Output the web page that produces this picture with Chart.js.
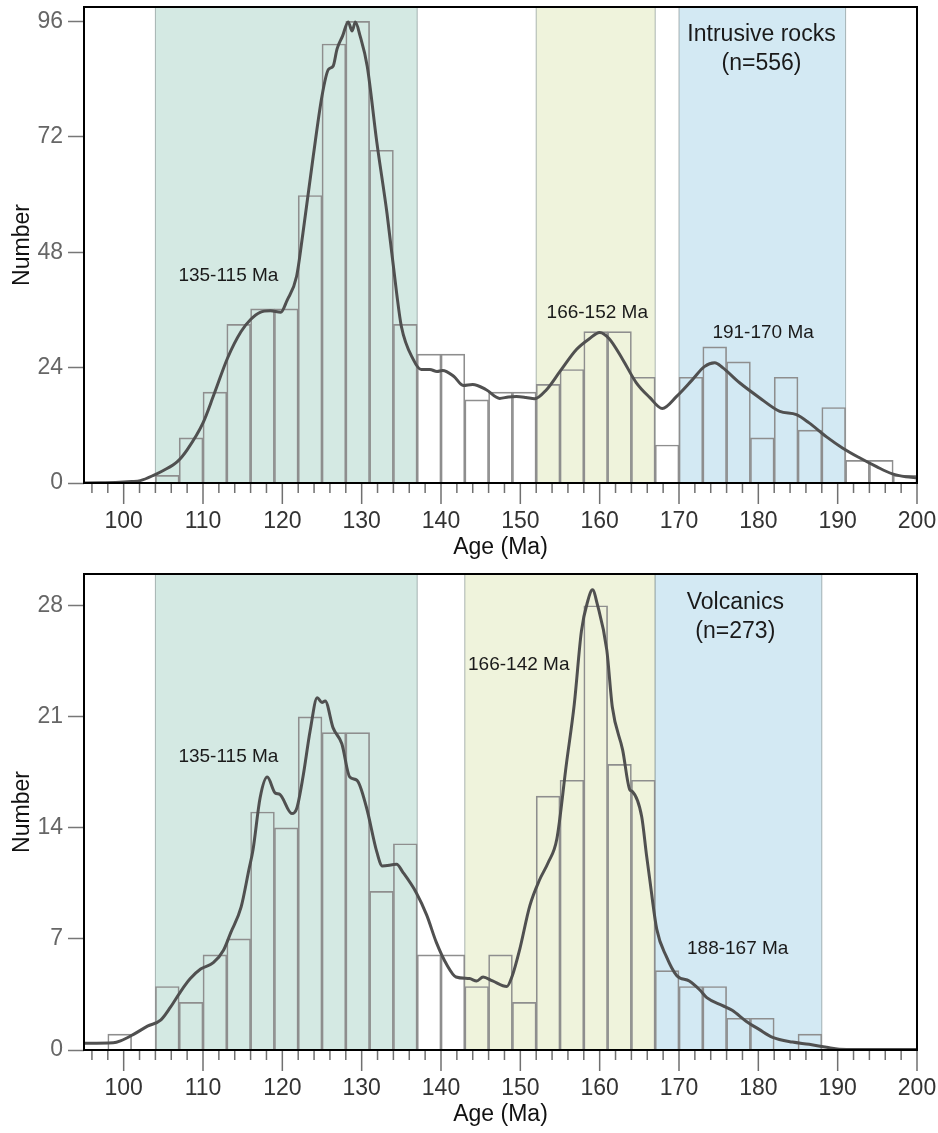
<!DOCTYPE html>
<html>
<head>
<meta charset="utf-8">
<script src="https://cdn.jsdelivr.net/npm/chart.js@4.4.1/dist/chart.umd.min.js"></script>
<style>
    html, body { margin: 0; padding: 0; background: #fff; }
    .panel { position: absolute; left: 0; width: 938px; height: 566px; }
</style>
</head>
<body>
<div class="panel" style="top:0"><canvas id="intrusiveChart" width="938" height="566"></canvas></div>
<div class="panel" style="top:567px"><canvas id="volcanicChart" width="938" height="566"></canvas></div>
<script>
// histogram bins are 3 Ma wide, listed by their start age
const BIN_WIDTH = 3;

// --- intrusive rocks (top) ---
const intrusiveBinStart = [104, 107, 110, 113, 116, 119, 122, 125, 128, 131, 134, 137, 140, 143, 146, 149,
    152, 155, 158, 161, 164, 167, 170, 173, 176, 179, 182, 185, 188, 191, 194, 197];
const intrusiveBinValue = [1.6, 9.4, 18.9, 33.0, 36.2, 36.2, 59.8, 91.3, 96.0, 69.2, 33.0, 26.8, 26.8, 17.3, 18.9, 18.9,
    20.5, 23.6, 31.5, 31.5, 22.0, 7.9, 22.0, 28.3, 25.2, 9.4, 22.0, 11.0, 15.7, 4.7, 4.7, 1.6];
const intrusiveCurveAge = [95, 97, 99, 101, 102.1, 103.9, 105, 106.8, 108, 110, 111.4, 113.1, 114.8, 116, 117.2, 118.5,
    119.8, 120.6, 121.8, 122.6, 123.9, 125, 125.8, 126.4, 126.9, 127.6, 128.3, 128.8, 129.2, 129.8, 130.7, 131.9,
    133.2, 134.4, 135, 136.5, 137.5, 138.6, 139.5, 140.2, 141.6, 142.8, 144, 145.7, 147.4, 148.5, 149.5, 150.7,
    151.8, 153.3, 155, 157.1, 158.7, 160, 161.2, 162.9, 164.6, 166.3, 167.9, 169.7, 171.7, 173.2, 174.5, 175.5,
    177.6, 180.1, 182.7, 184.8, 186.4, 188.6, 190.6, 192.7, 194.9, 196.9, 198.6, 200];
const intrusiveCurveValue = [0, 0.05, 0.1, 0.3, 0.5, 1.7, 2.6, 4.5, 6.9, 12.5, 18.5, 26, 31.5, 34, 35.5, 35.8,
    35.5, 38, 43, 52, 68, 80.5, 86, 86.7, 90.3, 93, 95.9, 94, 95.9, 93, 86.7, 71,
    56, 39.6, 32.6, 25.7, 23.6, 23.6, 23.2, 23.4, 22.2, 20.3, 20.5, 19.4, 17.6, 17.9, 18, 17.8,
    17.5, 19.4, 23.2, 27.8, 30, 31.3, 30, 25.7, 20.9, 17.8, 15.5, 18, 21.5, 24.2, 25, 24,
    20.9, 17.8, 14.9, 14.2, 12.5, 9.6, 7.3, 5.3, 3.4, 1.9, 1.3, 1.1];
const intrusiveBandFrom = [104, 152, 170];
const intrusiveBandTo = [137, 167, 191];

// --- volcanics (bottom) ---
const volcanicBinStart = [98, 101, 104, 107, 110, 113, 116, 119, 122, 125, 128, 131, 134, 137, 140,
    143, 146, 149, 152, 155, 158, 161, 164, 167, 170, 173, 176, 179, 182, 185];
const volcanicBinValue = [1, 0, 4, 3, 6, 7, 15, 14, 21, 20, 20, 10, 13, 6, 6,
    4, 6, 3, 16, 17, 28, 18, 17, 5, 4, 4, 2, 2, 0, 1];
const volcanicCurveAge = [95, 98.7, 99.6, 101.3, 103, 104.7, 105.9, 107.2, 108.4, 109.7, 111.3, 112.6, 113.5, 114.8,
    115.8, 116.3, 117.2, 118.1, 119.1, 119.7, 121.2, 121.8, 122.6, 123.5, 124.4, 125, 125.4, 126.4, 127.5,
    128.5, 129.4, 130.6, 131.9, 132.6, 134.4, 135.2, 136.9, 138.2, 139.4, 140.7, 141.9, 143.6, 144.5, 145.3,
    146.5, 148.3, 149, 149.9, 151.2, 152.4, 153.5, 154.6, 155.8, 156.8, 157.7, 158.5, 159.1, 159.7, 160.9,
    161.6, 162.9, 163.8, 164.1, 165.3, 165.9, 166.3, 167.2, 168.4, 169.7, 171.3, 172.6, 173.5, 175.5, 176.7,
    178.5, 180.1, 181.8, 184.3, 186.4, 188.6, 190.2, 195, 200];
const volcanicCurveValue = [0.42, 0.45, 0.57, 1.0, 1.5, 1.9, 2.7, 3.7, 4.5, 5.1, 5.5, 6.3, 7.4, 9.0,
    11.4, 12.6, 15.9, 17.2, 16.2, 16.1, 14.9, 15.2, 17.2, 20.1, 22.2, 21.9, 22.0, 20.3, 19.3,
    17.2, 17.0, 15.3, 12.5, 11.6, 11.7, 11.2, 9.9, 8.5, 6.8, 5.4, 4.6, 4.5, 4.35, 4.6,
    4.35, 4.0, 4.7, 6.3, 9.1, 10.7, 11.8, 13.3, 18.0, 21.8, 26.4, 28.3, 29.0, 28.1, 25.2,
    21.6, 18.9, 16.4, 16.3, 14.7, 12.3, 10.8, 7.6, 5.9, 4.7, 4.35, 3.8, 3.3, 2.8, 2.5,
    1.8, 1.3, 0.8, 0.5, 0.36, 0.17, 0.05, 0.03, 0.03];
const volcanicBandFrom = [104, 143, 167];
const volcanicBandTo = [137, 167, 188];

const BAND_COLORS = ['#d4e9e3', '#eff3dc', '#d3e9f3'];
const FONT = '"Liberation Sans", Arial, sans-serif';

function makePanel(canvasId, cfg) {
    const ctx = document.getElementById(canvasId).getContext('2d');

    const bars = cfg.binStart.map((s, i) => ({ x: s + BIN_WIDTH / 2, y: cfg.binValue[i] }));
    const curve = cfg.curveAge.map((a, i) => ({ x: a, y: cfg.curveValue[i] }));

    const decor = {
        id: 'decor',
        beforeDatasetsDraw(chart) {
            const { ctx, chartArea: a, scales: { x } } = chart;
            ctx.save();
            cfg.bandFrom.forEach((from, i) => {
                const x0 = x.getPixelForValue(from);
                const x1 = x.getPixelForValue(cfg.bandTo[i]);
                ctx.fillStyle = BAND_COLORS[i];
                ctx.fillRect(x0, a.top, x1 - x0, a.bottom - a.top);
                ctx.strokeStyle = 'rgba(120,135,135,0.6)';
                ctx.lineWidth = 1;
                ctx.beginPath();
                ctx.moveTo(x0, a.top); ctx.lineTo(x0, a.bottom);
                ctx.moveTo(x1, a.top); ctx.lineTo(x1, a.bottom);
                ctx.stroke();
            });
            ctx.restore();
        },
        afterDatasetsDraw(chart) {
            const { ctx, chartArea: a, scales: { x, y } } = chart;
            ctx.save();
            // x-axis tick marks: minor every 2 Ma, long ones every 10 Ma
            ctx.strokeStyle = '#707070';
            ctx.lineWidth = 1.5;
            ctx.beginPath();
            for (let v = 96; v <= 200; v += 2) {
                const px = x.getPixelForValue(v);
                ctx.moveTo(px, a.bottom);
                ctx.lineTo(px, a.bottom + (v % 10 === 0 ? 21 : 10));
            }
            ctx.stroke();
            // frame
            ctx.strokeStyle = '#000';
            ctx.lineWidth = 2;
            ctx.strokeRect(a.left, a.top, a.right - a.left, a.bottom - a.top);
            // annotations
            ctx.fillStyle = '#1a1a1a';
            ctx.textAlign = 'center';
            ctx.textBaseline = 'middle';
            cfg.notes.forEach(n => {
                ctx.font = n.size + 'px ' + FONT;
                ctx.fillText(n.text, x.getPixelForValue(n.age), y.getPixelForValue(n.value));
            });
            ctx.restore();
        }
    };

    return new Chart(ctx, {
        type: 'bar',
        data: {
            datasets: [{
                type: 'line',
                data: curve,
                borderColor: '#505050',
                borderWidth: 3,
                pointRadius: 0,
                cubicInterpolationMode: 'monotone',
                fill: false,
                order: 0
            }, {
                type: 'bar',
                data: bars,
                backgroundColor: 'rgba(0,0,0,0)',
                borderColor: '#8e8e8e',
                borderWidth: 1,
                barPercentage: 1,
                categoryPercentage: 1,
                order: 1
            }]
        },
        options: {
            responsive: false,
            animation: false,
            layout: { padding: { top: 7, right: 21, left: 0, bottom: 0 } },
            plugins: {
                legend: { display: false },
                tooltip: { enabled: false }
            },
            scales: {
                x: {
                    type: 'linear',
                    offset: false,
                    min: 95,
                    max: 200,
                    ticks: {
                        stepSize: 10,
                        includeBounds: false,
                        autoSkip: false,
                        maxRotation: 0,
                        color: '#333',
                        padding: 25,
                        font: { family: FONT, size: 23 }
                    },
                    grid: { display: false, drawTicks: false },
                    border: { display: false },
                    title: {
                        display: true,
                        text: 'Age (Ma)',
                        color: '#111',
                        font: { family: FONT, size: 23 },
                        padding: { top: 0, bottom: 5 }
                    },
                    afterFit(scale) {
                        scale.height = 83;
                        scale.paddingLeft = 0;
                        scale.paddingRight = 0;
                    }
                },
                y: {
                    min: 0,
                    max: cfg.yMax,
                    ticks: {
                        stepSize: cfg.yStep,
                        includeBounds: false,
                        color: '#666',
                        padding: 5,
                        font: { family: FONT, size: 23 }
                    },
                    grid: {
                        drawOnChartArea: false,
                        drawTicks: true,
                        tickLength: 16,
                        tickColor: '#777',
                        tickWidth: 1.5
                    },
                    border: { display: false },
                    title: {
                        display: true,
                        text: 'Number',
                        color: '#111',
                        font: { family: FONT, size: 23 },
                        padding: { top: 9, bottom: 0 }
                    },
                    afterFit(scale) {
                        scale.width = 84;
                        scale.paddingTop = 0;
                        scale.paddingBottom = 0;
                    }
                }
            }
        },
        plugins: [decor]
    });
}

makePanel('intrusiveChart', {
    binStart: intrusiveBinStart,
    binValue: intrusiveBinValue,
    curveAge: intrusiveCurveAge,
    curveValue: intrusiveCurveValue,
    bandFrom: intrusiveBandFrom,
    bandTo: intrusiveBandTo,
    yMax: 99,
    yStep: 24,
    notes: [
        { text: '135-115 Ma', age: 113.2, value: 43.2, size: 19 },
        { text: '166-152 Ma', age: 159.7, value: 35.5, size: 19 },
        { text: '191-170 Ma', age: 180.6, value: 31.3, size: 19 },
        { text: 'Intrusive rocks', age: 180.4, value: 93.3, size: 23 },
        { text: '(n=556)', age: 180.4, value: 87.3, size: 23 }
    ]
});

makePanel('volcanicChart', {
    binStart: volcanicBinStart,
    binValue: volcanicBinValue,
    curveAge: volcanicCurveAge,
    curveValue: volcanicCurveValue,
    bandFrom: volcanicBandFrom,
    bandTo: volcanicBandTo,
    yMax: 30,
    yStep: 7,
    notes: [
        { text: '135-115 Ma', age: 113.2, value: 18.5, size: 19 },
        { text: '166-142 Ma', age: 149.8, value: 24.3, size: 19 },
        { text: '188-167 Ma', age: 177.4, value: 6.4, size: 19 },
        { text: 'Volcanics', age: 177.1, value: 28.2, size: 23 },
        { text: '(n=273)', age: 177.1, value: 26.35, size: 23 }
    ]
});
</script>
</body>
</html>
